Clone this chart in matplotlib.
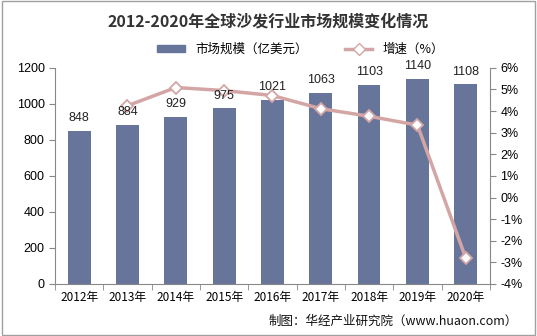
import matplotlib.pyplot as plt
from matplotlib.lines import Line2D
from matplotlib.patches import Patch, Rectangle

plt.rcParams['font.family'] = ['Noto Sans CJK SC', 'DejaVu Sans']
plt.rcParams['axes.unicode_minus'] = False

years = ['2012年', '2013年', '2014年', '2015年', '2016年', '2017年', '2018年', '2019年', '2020年']
market = [848, 884, 929, 975, 1021, 1063, 1103, 1140, 1108]
growth = [None, 4.25, 5.09, 4.95, 4.72, 4.11, 3.76, 3.35, -2.81]

bar_color = '#67759b'
line_color = '#d4a5a5'
num_font = ['Liberation Sans', 'DejaVu Sans']

fig = plt.figure(figsize=(5.37, 3.36), dpi=100)
fig.patches.append(Rectangle((0.004, 0.004), 0.992, 0.992, transform=fig.transFigure,
                             fill=False, edgecolor='#a0a0a0', linewidth=1))

ax = fig.add_axes([0.1024, 0.155, 0.81, 0.643])
x = list(range(len(years)))
ax.bar(x, market, width=0.47, color=bar_color, zorder=2)

ax.set_ylim(0, 1200)
ax.set_xlim(-0.5, len(years) - 0.5)
ax.set_yticks(range(0, 1201, 200))
ax.set_xticks(x)
ax.set_xticklabels(years)
ax.set_xticks([i + 0.5 for i in range(-1, len(years))], minor=True)
ax.tick_params(axis='x', which='major', length=0, labelsize=8.5, pad=5)
ax.tick_params(axis='x', which='minor', length=4, color='#888888')
ax.tick_params(axis='y', labelsize=9, length=4, color='#888888', direction='out')
for lbl in ax.get_yticklabels():
    lbl.set_family(num_font)
ax.spines['top'].set_visible(False)
ax.spines['right'].set_visible(False)
for s in ('left', 'bottom'):
    ax.spines[s].set_color('#888888')

ax2 = ax.twinx()
gx = [xi for xi, g in zip(x, growth) if g is not None]
gy = [g for g in growth if g is not None]
ax2.plot(gx, gy, color=line_color, linewidth=2.5, marker='D', markersize=6,
         markerfacecolor='white', markeredgecolor=line_color, markeredgewidth=1.3, zorder=3)
ax2.set_ylim(-4, 6)
ax2.set_yticks(range(-4, 7, 1))
ax2.set_yticklabels([f'{t}%' for t in range(-4, 7, 1)], family=num_font)
ax2.tick_params(axis='y', labelsize=9, length=4, color='#888888')
ax2.spines['top'].set_visible(False)
ax2.spines['left'].set_visible(False)
ax2.spines['bottom'].set_visible(False)
ax2.spines['right'].set_color('#888888')

# value labels sit above the growth line
for xi, v in zip(x, market):
    ax2.text(xi, v + 38, str(v), transform=ax.transData, ha='center', va='bottom',
             fontsize=9, color='#222222', family=num_font, zorder=5)

fig.text(0.5, 0.935, '2012-2020年全球沙发行业市场规模变化情况', ha='center', va='center',
         fontsize=11.5, fontweight='bold', color='#333333')

handles = [Patch(color=bar_color),
           Line2D([0], [0], color=line_color, linewidth=2.5, marker='D', markersize=6,
                  markerfacecolor='white', markeredgecolor=line_color)]
fig.legend(handles, ['市场规模（亿美元）', '增速（%）'], loc='center', bbox_to_anchor=(0.56, 0.852),
           ncol=2, frameon=False, fontsize=9, handlelength=2.2, columnspacing=3, handleheight=0.5)

fig.text(0.965, 0.045, '制图：华经产业研究院（www.huaon.com）', ha='right', va='center',
         fontsize=9, color='#111111')

fig.savefig('out.png', dpi=100)
